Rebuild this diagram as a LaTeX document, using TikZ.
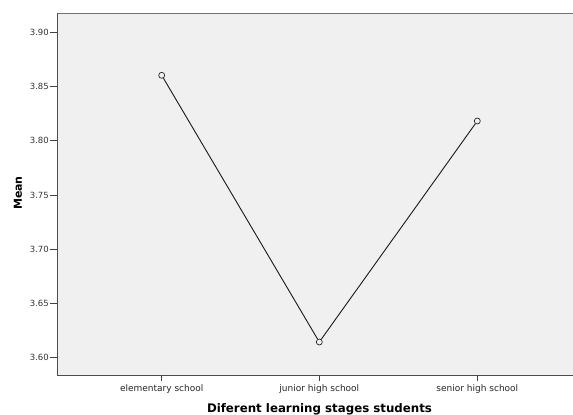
\documentclass[tikz,border=0pt]{standalone}
\usepackage{fontspec}
\setmainfont{DejaVu Sans}
\begin{document}
\begin{tikzpicture}[x=1pt,y=-1pt,
  ticklab/.style={font=\fontsize{8.5}{9}\selectfont, text=black!80, inner sep=0pt},
  catlab/.style={font=\fontsize{9}{10}\selectfont, text=black!85, inner sep=0pt},
  axline/.style={draw=black!70, line width=1pt},
  marker/.style={circle, draw=black!85, fill=none, line width=0.7pt, minimum size=6pt, inner sep=0pt},
  dataline/.style={draw=black!90, line width=0.9pt},
  tickmark/.style={draw=black!75, line width=0.9pt}]
\useasboundingbox (0,0) rectangle (573,415);
% plot area
\fill[black!6] (57,13) rectangle (573,375);
\draw[draw=black!55, line width=1pt] (57,13) -- (573,13);
\draw[axline] (573,375) -- (57,375) -- (57,13);
% y ticks
\foreach \v/\yy in {3.90/32.3,3.85/86.6,3.80/140.8,3.75/195.1,3.70/249.3,3.65/303.6,3.60/357.8}{
  \draw[tickmark] (50,\yy) -- (57,\yy);
  \node[ticklab, anchor=east] at (49,\yy) {\v};
}
% x ticks
\foreach \xx/\lab in {161.7/elementary school,319.3/junior high school,477.3/senior high school}{
  \draw[tickmark] (\xx,375) -- (\xx,381);
  \node[catlab, anchor=base] at (\xx,391) {\lab};
}
% data
\node[marker] (e) at (161.7,75.3) {};
\node[marker] (j) at (319.3,342) {};
\node[marker] (s) at (477.3,121) {};
\draw[dataline] (e) -- (j) -- (s);
% axis titles
\node[font=\bfseries\fontsize{11.8}{13}\selectfont, inner sep=0pt, anchor=base] (xt) at (319.5,412) {Diferent learning stages students};
\node[font=\bfseries\fontsize{11}{12}\selectfont, inner sep=0pt, rotate=90] (yt) at (18,193) {Mean};
\end{tikzpicture}
\end{document}
